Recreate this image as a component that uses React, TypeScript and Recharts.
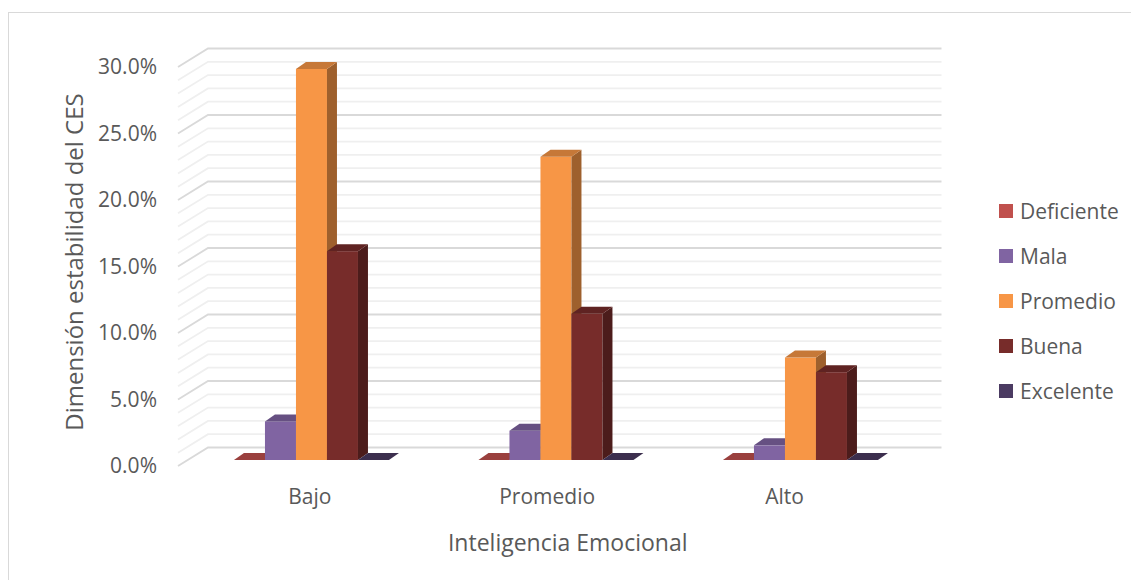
import React from "react";
import { BarChart, Bar, XAxis, YAxis, ReferenceLine, Legend } from "recharts";

// Inteligencia Emocional vs Dimensión estabilidad del CES
const categories = ["Bajo", "Promedio", "Alto"];
const deficiente = [0, 0, 0];
const mala = [0.029, 0.022, 0.011];
const promedio = [0.294, 0.228, 0.077];
const buena = [0.157, 0.11, 0.066];
const excelente = [0, 0, 0];

const yTicks = [0, 0.05, 0.1, 0.15, 0.2, 0.25, 0.3];
const gridTicks = [
  0, 0.01, 0.02, 0.03, 0.04, 0.05, 0.06, 0.07, 0.08, 0.09, 0.1, 0.11, 0.12, 0.13, 0.14, 0.15,
  0.16, 0.17, 0.18, 0.19, 0.2, 0.21, 0.22, 0.23, 0.24, 0.25, 0.26, 0.27, 0.28, 0.29, 0.3,
];

const series = [
  { key: "Deficiente", values: deficiente, color: "#C0504D" },
  { key: "Mala", values: mala, color: "#8064A2" },
  { key: "Promedio", values: promedio, color: "#F79646" },
  { key: "Buena", values: buena, color: "#772C2A" },
  { key: "Excelente", values: excelente, color: "#4B3B62" },
];

const data = categories.map((category, i) => {
  const row: Record<string, string | number> = { category };
  series.forEach((s) => (row[s.key] = s.values[i]));
  return row;
});

const FONT = "'Open Sans', sans-serif";
const TEXT = "#595959";

// depth of the bars
const DX = 10;
const DY = 7;

function shade(hex: string, f: number) {
  const n = parseInt(hex.slice(1), 16);
  const r = Math.round(((n >> 16) & 255) * f);
  const g = Math.round(((n >> 8) & 255) * f);
  const b = Math.round((n & 255) * f);
  return `rgb(${r},${g},${b})`;
}

const Bar3D = (props: any) => {
  const { x, y, width, height, fill } = props;
  if (x == null || y == null) return null;
  const h = Math.max(0, height || 0);
  const top = `M${x},${y} L${x + DX},${y - DY} L${x + width + DX},${y - DY} L${x + width},${y} Z`;
  const side = `M${x + width},${y} L${x + width + DX},${y - DY} L${x + width + DX},${y + h - DY} L${x + width},${y + h} Z`;
  return (
    <g>
      {h > 0 && <rect x={x} y={y} width={width} height={h} fill={fill} />}
      {h > 0 && <path d={side} fill={shade(fill, 0.64)} />}
      <path d={top} fill={shade(fill, 0.8)} />
    </g>
  );
};

// gridline on the side wall + back wall
const wallLine = (major: boolean) => (props: any) => {
  const { x1, x2, y1 } = props;
  return (
    <path
      d={`M${x1 - 10},${y1 + 6} L${x1 + 20},${y1 - 12.5} L${x2 + 20},${y1 - 12.5}`}
      fill="none"
      stroke={major ? "#d9d9d9" : "#efefef"}
      strokeWidth={1.8}
    />
  );
};

const YTick = (props: any) => (
  <text x={props.x - 23} y={props.y + 6} dy="0.35em" textAnchor="end" fontSize={21} fontFamily={FONT} fill={TEXT}>
    {(props.payload.value * 100).toFixed(1) + "%"}
  </text>
);

const XTick = (props: any) => (
  <text x={8.5 + 0.971 * props.x} y={props.y + 29} dy="0.35em" textAnchor="middle" fontSize={21} fontFamily={FONT} fill={TEXT}>
    {props.payload.value}
  </text>
);

const LegendBox = () => (
  <div style={{ fontFamily: FONT, fontSize: 21, color: TEXT }}>
    {series.map((s) => (
      <div key={s.key} style={{ height: 45, display: "flex", alignItems: "center" }}>
        <span style={{ width: 14, height: 14, background: s.color, marginRight: 7, display: "inline-block" }} />
        {s.key}
      </div>
    ))}
  </div>
);

export default function App() {
  return (
    <div style={{ position: "absolute", left: 0, top: 0, width: 1131, height: 580, overflow: "hidden", background: "#fff" }}>
      <div style={{ position: "absolute", left: 8, top: 12, width: 1200, height: 700, border: "1.5px solid #d9d9d9" }} />
      <BarChart
        width={1131}
        height={580}
        data={data}
        margin={{ top: 61, right: 209.5, bottom: 60, left: 128 }}
        barCategoryGap="18.8%"
        barGap={0}
      >
        <XAxis
          dataKey="category"
          axisLine={false}
          tickLine={false}
          height={60}
          tick={<XTick />}
          label={{
            content: (p: any) => (
              <text
                x={p.viewBox.x + p.viewBox.width / 2 + 13}
                y={543}
                dy="0.35em"
                textAnchor="middle"
                fontSize={23}
                fontFamily={FONT}
                fill={TEXT}
              >
                Inteligencia Emocional
              </text>
            ),
          }}
        />
        <YAxis
          width={60}
          domain={[0, 0.3]}
          ticks={yTicks}
          axisLine={false}
          tickLine={false}
          tick={<YTick />}
          label={{
            content: () => (
              <text
                x={75}
                y={262}
                dy="0.35em"
                textAnchor="middle"
                transform="rotate(-90, 75, 262)"
                fontSize={24}
                fontFamily={FONT}
                fill={TEXT}
              >
                Dimensión estabilidad del CES
              </text>
            ),
          }}
        />
        {gridTicks.map((v, i) => (
          <ReferenceLine key={"g" + i} y={v} shape={wallLine(i % 5 === 0)} {...({ zIndex: -100 } as any)} />
        ))}
        {series.map((s) => (
          <Bar key={s.key} dataKey={s.key} fill={s.color} shape={<Bar3D />} isAnimationActive={false} />
        ))}
        <Legend
          layout="vertical"
          align="center"
          verticalAlign="middle"
          content={<LegendBox />}
          wrapperStyle={{ left: 999, top: 188.5, width: 140 }}
        />
      </BarChart>
    </div>
  );
}
